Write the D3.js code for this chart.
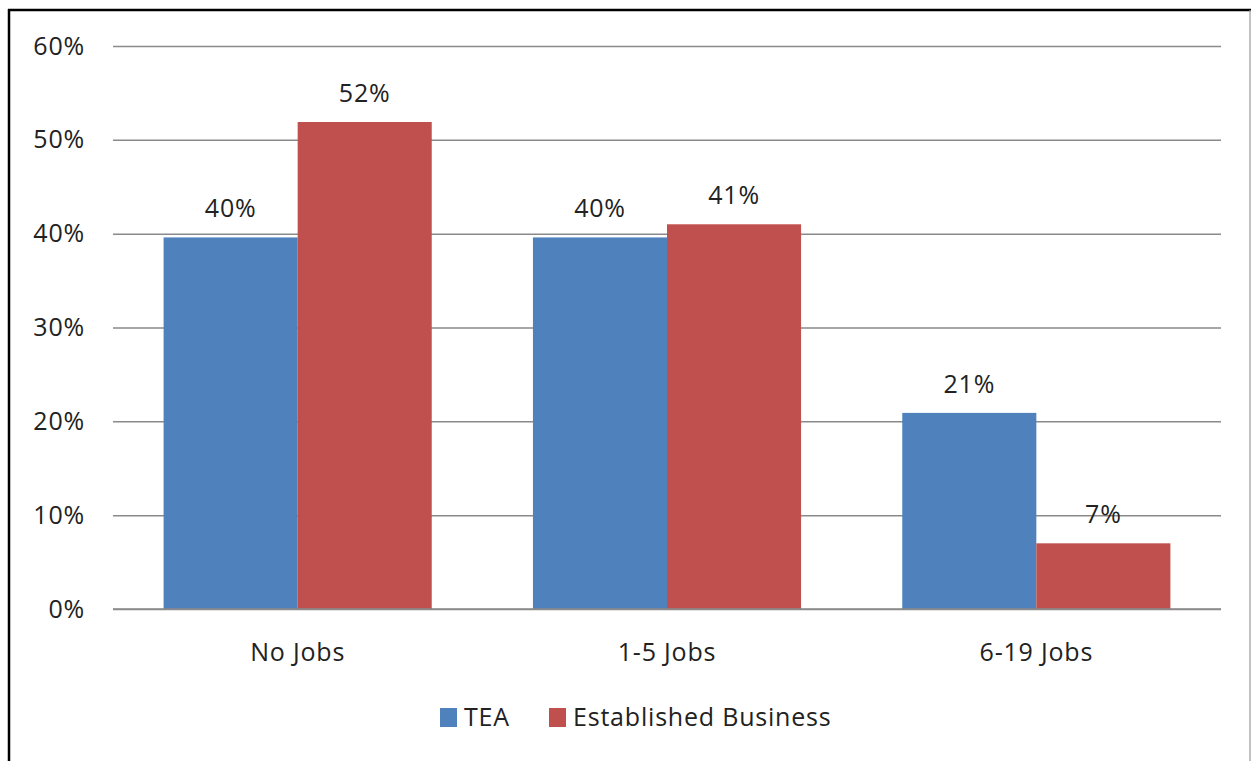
<!DOCTYPE html>
<html>
<head>
<meta charset="utf-8">
<script src="https://cdn.jsdelivr.net/npm/d3@7"></script>
<style>
  html, body { margin: 0; padding: 0; background: #fff; }
  svg { display: block; }
  text { font-family: "Open Sans", "DejaVu Sans", sans-serif; fill: #222; letter-spacing: 0.8px; }
</style>
</head>
<body>
<svg id="chart" width="1252" height="761"></svg>
<script>
// Chart data
const categories = ["No Jobs", "1-5 Jobs", "6-19 Jobs"];
const seriesNames = ["TEA", "Established Business"];
const teaValues = [0.396, 0.396, 0.209];
const establishedValues = [0.519, 0.41, 0.07];
const yTicks = [0, 0.1, 0.2, 0.3, 0.4, 0.5, 0.6];
const seriesColors = ["#4F81BD", "#C0504D"];

const series = [teaValues, establishedValues];

const svg = d3.select("#chart");
const W = 1252, H = 761;
const plot = { left: 113, right: 1221, top: 46, bottom: 609 };
const fontSize = 25;

// Frame around the chart area
svg.append("line").attr("x1", 9).attr("x2", 9).attr("y1", 9).attr("y2", H)
  .attr("stroke", "#000").attr("stroke-width", 2.5);
svg.append("line").attr("x1", 8).attr("x2", 1251).attr("y1", 10).attr("y2", 10)
  .attr("stroke", "#000").attr("stroke-width", 2.5);
svg.append("line").attr("x1", 1250).attr("x2", 1250).attr("y1", 10).attr("y2", H)
  .attr("stroke", "#999").attr("stroke-width", 1.2);

const x = d3.scaleBand()
  .domain(categories)
  .range([plot.left, plot.right])
  .paddingInner(0.274)
  .paddingOuter(0.137);

const xSub = d3.scaleBand()
  .domain(d3.range(seriesNames.length))
  .range([0, x.bandwidth()]);

const y = d3.scaleLinear()
  .domain([0, 0.6])
  .range([plot.bottom, plot.top]);

const pct = d3.format(".0%");

// Gridlines and value axis labels
const yAxis = d3.axisLeft(y)
  .tickValues(yTicks)
  .tickFormat(pct)
  .tickSize(-(plot.right - plot.left))
  .tickPadding(28);

const gy = svg.append("g")
  .attr("transform", `translate(${plot.left},0)`)
  .call(yAxis);
gy.select(".domain").remove();
gy.selectAll(".tick line").attr("stroke", "#8a8a8a").attr("stroke-width", 1.5);
gy.selectAll(".tick text")
  .attr("font-size", fontSize)
  .attr("font-family", "'Open Sans', sans-serif")
  .attr("fill", "#222");

// Bars
const groups = svg.append("g").selectAll("g")
  .data(categories)
  .join("g")
  .attr("transform", d => `translate(${x(d)},0)`);

groups.selectAll("rect")
  .data((c, i) => series.map((s, k) => ({ k, v: s[i] })))
  .join("rect")
  .attr("x", d => xSub(d.k))
  .attr("width", xSub.bandwidth())
  .attr("y", d => y(d.v))
  .attr("height", d => y(0) - y(d.v))
  .attr("fill", d => seriesColors[d.k]);

// Value labels above bars
groups.selectAll("text.value")
  .data((c, i) => series.map((s, k) => ({ k, v: s[i] })))
  .join("text")
  .attr("class", "value")
  .attr("x", d => xSub(d.k) + xSub.bandwidth() / 2)
  .attr("y", d => y(d.v) - 20)
  .attr("text-anchor", "middle")
  .attr("font-size", fontSize)
  .text(d => pct(d.v));

// Category axis
const xAxis = d3.axisBottom(x).tickSize(0).tickPadding(34);
const gx = svg.append("g")
  .attr("transform", `translate(0,${plot.bottom})`)
  .call(xAxis);
gx.select(".domain").attr("stroke", "#8a8a8a").attr("stroke-width", 1.5)
  .attr("d", `M${plot.left},0H${plot.right}`);
gx.selectAll(".tick text")
  .attr("font-size", fontSize)
  .attr("font-family", "'Open Sans', sans-serif")
  .attr("fill", "#222");

// Legend
const legend = svg.append("g").attr("transform", "translate(440,708)");
const legendX = [0, 109];
const items = legend.selectAll("g")
  .data(seriesNames)
  .join("g")
  .attr("transform", (d, i) => `translate(${legendX[i]},0)`);
items.append("rect")
  .attr("width", 17).attr("height", 19)
  .attr("fill", (d, i) => seriesColors[i]);
items.append("text")
  .attr("x", 24).attr("y", 18)
  .attr("font-size", fontSize)
  .text(d => d);
</script>
</body>
</html>
